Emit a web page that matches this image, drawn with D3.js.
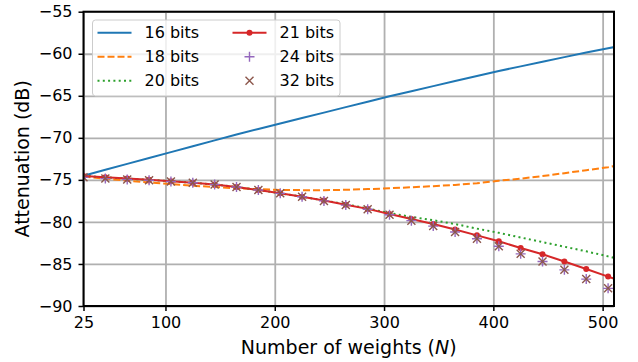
<!DOCTYPE html>
<html>
<head>
<meta charset="utf-8">
<script src="https://cdn.jsdelivr.net/npm/d3@7"></script>
<style>
  body { margin: 0; background: #fff; }
  text { font-family: "DejaVu Sans", sans-serif; }
</style>
</head>
<body>
<div id="chart"></div>
<script>
// number of weights, sampled every 20 taps
const taps = [25, 45, 65, 85, 105, 125, 145, 165, 185, 205, 225, 245, 265,
              285, 305, 325, 345, 365, 385, 405, 425, 445, 465, 485, 505, 525];

const bits16 = [-74.5, -73.8, -73.1, -72.4, -71.7, -71.0, -70.3, -69.6, -68.95, -68.3, -67.65, -67.0, -66.35,
                -65.7, -65.05, -64.45, -63.85, -63.25, -62.65, -62.05, -61.5, -60.95, -60.4, -59.85, -59.35, -58.85];
const bits18 = [-74.6, -74.85, -75.1, -75.3, -75.5, -75.7, -75.85, -76.0, -76.1, -76.2, -76.22, -76.22, -76.18,
                -76.1, -76.0, -75.88, -75.75, -75.6, -75.4, -75.1, -74.85, -74.55, -74.2, -73.85, -73.5, -73.0];
const bits20 = [-74.5, -74.7, -74.85, -75.0, -75.15, -75.35, -75.55, -75.85, -76.2, -76.6, -77.0, -77.45, -77.9,
                -78.4, -78.95, -79.4, -79.8, -80.25, -80.8, -81.3, -81.85, -82.4, -82.95, -83.5, -84.1, -84.7];
const bits21 = [-74.55, -74.7, -74.85, -75.0, -75.15, -75.35, -75.55, -75.85, -76.2, -76.6, -77.0, -77.45, -77.95,
                -78.45, -79.05, -79.65, -80.25, -80.9, -81.6, -82.3, -83.1, -83.85, -84.7, -85.6, -86.5, -87.4];
const bits24 = [-74.7, -74.85, -74.95, -75.05, -75.2, -75.35, -75.55, -75.85, -76.2, -76.6, -77.0, -77.5, -78.0,
                -78.5, -79.15, -79.85, -80.5, -81.2, -82.0, -82.9, -83.8, -84.7, -85.7, -86.8, -87.9, -89.0];
const bits32 = [-74.7, -74.85, -74.95, -75.05, -75.2, -75.35, -75.55, -75.85, -76.2, -76.6, -77.0, -77.5, -78.0,
                -78.5, -79.15, -79.85, -80.5, -81.2, -82.0, -82.9, -83.8, -84.7, -85.7, -86.8, -87.9, -89.0];

const xTicks = [25, 100, 200, 300, 400, 500];
const yTicks = [-90, -85, -80, -75, -70, -65, -60, -55];
const legendNames = ['16 bits', '18 bits', '20 bits', '21 bits', '24 bits', '32 bits'];

const width = 638;
const height = 362;
const mLeft = 83.5, mRight = 614, mTop = 11.7, mBottom = 306;

var svg = d3.select('#chart')
  .append('svg')
  .attr('width', width)
  .attr('height', height);

var x = d3.scaleLinear().domain([25, 510.4]).range([mLeft, mRight]);
var y = d3.scaleLinear().domain([-90, -55]).range([mBottom, mTop]);

svg.append('clipPath').attr('id', 'clip')
  .append('rect')
  .attr('x', mLeft).attr('y', mTop)
  .attr('width', mRight - mLeft).attr('height', mBottom - mTop);

// grid
svg.append('g')
  .attr('transform', 'translate(0,' + mBottom + ')')
  .call(d3.axisBottom(x).tickValues(xTicks).tickSize(-(mBottom - mTop)).tickFormat(''))
  .call(g => g.select('.domain').remove())
  .selectAll('line').attr('stroke', '#b0b0b0').attr('stroke-width', 1.8);

svg.append('g')
  .attr('transform', 'translate(' + mLeft + ',0)')
  .call(d3.axisLeft(y).tickValues(yTicks).tickSize(-(mRight - mLeft)).tickFormat(''))
  .call(g => g.select('.domain').remove())
  .selectAll('line').attr('stroke', '#b0b0b0').attr('stroke-width', 1.8);

var plot = svg.append('g').attr('clip-path', 'url(#clip)');

function series(vals) {
  return taps.map(function(n, i) { return [n, vals[i]]; });
}

var line = d3.line()
  .x(d => x(d[0]))
  .y(d => y(d[1]));

plot.append('path').datum(series(bits16))
  .attr('d', line).attr('fill', 'none')
  .attr('stroke', '#1f77b4').attr('stroke-width', 2);

plot.append('path').datum(series(bits18))
  .attr('d', line).attr('fill', 'none')
  .attr('stroke', '#ff7f0e').attr('stroke-width', 2)
  .attr('stroke-dasharray', '7,3');

plot.append('path').datum(series(bits20))
  .attr('d', line).attr('fill', 'none')
  .attr('stroke', '#2ca02c').attr('stroke-width', 2)
  .attr('stroke-dasharray', '2,3.3');

plot.append('path').datum(series(bits21))
  .attr('d', line).attr('fill', 'none')
  .attr('stroke', '#d62728').attr('stroke-width', 2);

plot.selectAll('.dot21')
  .data(series(bits21))
  .enter()
  .append('circle')
  .attr('class', 'dot21')
  .attr('cx', d => x(d[0]))
  .attr('cy', d => y(d[1]))
  .attr('r', 3)
  .attr('fill', '#d62728');

var s = 5;   // half size of the + marker
var k = 4;   // half size of the x marker

function plusPath(cx, cy) {
  return 'M' + (cx - s) + ',' + cy + 'H' + (cx + s) + 'M' + cx + ',' + (cy - s) + 'V' + (cy + s);
}
function crossPath(cx, cy) {
  return 'M' + (cx - k) + ',' + (cy - k) + 'L' + (cx + k) + ',' + (cy + k) +
         'M' + (cx - k) + ',' + (cy + k) + 'L' + (cx + k) + ',' + (cy - k);
}

plot.selectAll('.p24')
  .data(series(bits24))
  .enter()
  .append('path')
  .attr('class', 'p24')
  .attr('d', d => plusPath(x(d[0]), y(d[1])))
  .attr('stroke', '#9467bd')
  .attr('stroke-width', 1.4);

plot.selectAll('.x32')
  .data(series(bits32))
  .enter()
  .append('path')
  .attr('class', 'x32')
  .attr('d', d => crossPath(x(d[0]), y(d[1])))
  .attr('stroke', '#8c564b')
  .attr('stroke-width', 1.4);

// axes
var xAxis = svg.append('g')
  .attr('transform', 'translate(0,' + mBottom + ')')
  .call(d3.axisBottom(x).tickValues(xTicks).tickSize(5).tickPadding(6));
var yAxis = svg.append('g')
  .attr('transform', 'translate(' + mLeft + ',0)')
  .call(d3.axisLeft(y).tickValues(yTicks).tickSize(5).tickPadding(6)
    .tickFormat(d => String(d).replace('-', '\u2212')));

[xAxis, yAxis].forEach(function(g) {
  g.select('.domain').remove();
  g.selectAll('line').attr('stroke', '#000').attr('stroke-width', 1.5);
  g.selectAll('text').attr('font-size', 16).attr('fill', '#000')
    .attr('font-family', 'DejaVu Sans');
});

svg.append('rect')
  .attr('x', mLeft).attr('y', mTop)
  .attr('width', mRight - mLeft).attr('height', mBottom - mTop)
  .attr('fill', 'none').attr('stroke', '#000').attr('stroke-width', 2);

// axis labels
svg.append('text')
  .attr('x', (mLeft + mRight) / 2)
  .attr('y', 354)
  .attr('text-anchor', 'middle')
  .attr('font-size', 19)
  .html('Number of weights (<tspan font-style="italic">N</tspan>)');

svg.append('text')
  .attr('transform', 'translate(29,' + (mTop + mBottom) / 2 + ') rotate(-90)')
  .attr('text-anchor', 'middle')
  .attr('font-size', 19)
  .text('Attenuation (dB)');

// legend
var legend = svg.append('g');
legend.append('rect')
  .attr('x', 92.5).attr('y', 20)
  .attr('width', 247.5).attr('height', 76)
  .attr('rx', 3)
  .attr('fill', '#fff').attr('fill-opacity', 0.8)
  .attr('stroke', '#cccccc').attr('stroke-width', 1);

legendNames.forEach(function(name, i) {
  var col = Math.floor(i / 3), row = i % 3;
  var hx = col === 0 ? 97.5 : 232.5;
  var ty = 32.7 + row * 24;
  var cx = hx + 17;
  var g = legend.append('g');
  if (i === 0) {
    g.append('line').attr('x1', hx).attr('x2', hx + 34).attr('y1', ty).attr('y2', ty)
      .attr('stroke', '#1f77b4').attr('stroke-width', 2);
  } else if (i === 1) {
    g.append('line').attr('x1', hx).attr('x2', hx + 34).attr('y1', ty).attr('y2', ty)
      .attr('stroke', '#ff7f0e').attr('stroke-width', 2).attr('stroke-dasharray', '7,3');
  } else if (i === 2) {
    g.append('line').attr('x1', hx).attr('x2', hx + 34).attr('y1', ty).attr('y2', ty)
      .attr('stroke', '#2ca02c').attr('stroke-width', 2).attr('stroke-dasharray', '2,3.3');
  } else if (i === 3) {
    g.append('line').attr('x1', hx).attr('x2', hx + 34).attr('y1', ty).attr('y2', ty)
      .attr('stroke', '#d62728').attr('stroke-width', 2);
    g.append('circle').attr('cx', cx).attr('cy', ty).attr('r', 3).attr('fill', '#d62728');
  } else if (i === 4) {
    g.append('path').attr('d', plusPath(cx, ty))
      .attr('stroke', '#9467bd').attr('stroke-width', 1.4);
  } else {
    g.append('path').attr('d', crossPath(cx, ty))
      .attr('stroke', '#8c564b').attr('stroke-width', 1.4);
  }
  g.append('text')
    .attr('x', hx + 47)
    .attr('y', ty)
    .attr('dy', '0.36em')
    .attr('font-size', 16)
    .text(name);
});
</script>
</body>
</html>
